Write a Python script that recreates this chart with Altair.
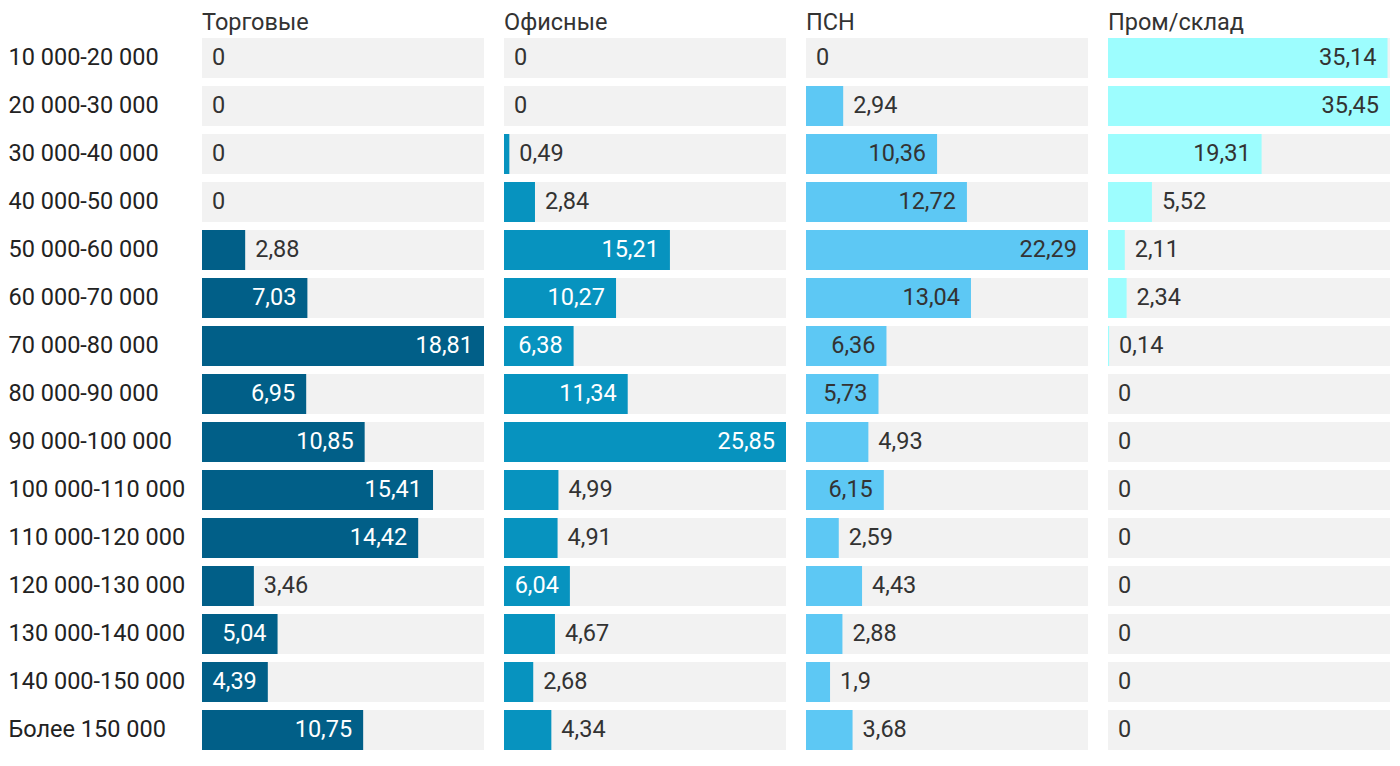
import altair as alt
import pandas as pd

panels = ["Торговые", "Офисные", "ПСН", "Пром/склад"]
ranges = ["10 000-20 000", "20 000-30 000", "30 000-40 000", "40 000-50 000",
          "50 000-60 000", "60 000-70 000", "70 000-80 000", "80 000-90 000",
          "90 000-100 000", "100 000-110 000", "110 000-120 000", "120 000-130 000",
          "130 000-140 000", "140 000-150 000", "Более 150 000"]
torg = [0, 0, 0, 0, 2.88, 7.03, 18.81, 6.95, 10.85, 15.41, 14.42, 3.46, 5.04, 4.39, 10.75]
ofis = [0, 0, 0.49, 2.84, 15.21, 10.27, 6.38, 11.34, 25.85, 4.99, 4.91, 6.04, 4.67, 2.68, 4.34]
psn = [0, 2.94, 10.36, 12.72, 22.29, 13.04, 6.36, 5.73, 4.93, 6.15, 2.59, 4.43, 2.88, 1.9, 3.68]
prom = [35.14, 35.45, 19.31, 5.52, 2.11, 2.34, 0.14, 0, 0, 0, 0, 0, 0, 0, 0]
series = [torg, ofis, psn, prom]
colors = ["#015f88", "#0793bf", "#5dc8f4", "#9dfdfe"]
inside_colors = ["#ffffff", "#ffffff", "#333333", "#333333"]

W = 282
H = 720
FS = 23.5


def fmt(v):
    return f"{v:g}".replace(".", ",")


rows = []
for p, vals in zip(panels, series):
    mx = max(vals)
    for r, v in zip(ranges, vals):
        rows.append({"panel": p, "range": r, "value": v, "mx": mx,
                     "label": fmt(v), "inside": bool(v / mx * W > 64)})
df = pd.DataFrame(rows)

yscale = alt.Scale(paddingInner=8 / 48, paddingOuter=4 / 48)


def panel(i, show_axis):
    name = panels[i]
    d = df[df.panel == name]
    mx = max(series[i])
    xs = alt.Scale(domain=[0, mx], nice=False, zero=True)
    if show_axis:
        yax = alt.Axis(title=None, ticks=False, tickSize=0, domain=False, grid=False,
                       labelAlign="left", labelPadding=194, labelFontSize=FS,
                       labelColor="#222222", labelFont="Roboto", labelLimit=300)
    else:
        yax = None
    base = alt.Chart(d).encode(y=alt.Y("range:N", sort=ranges, scale=yscale, axis=yax))
    bg = base.mark_bar(color="#f2f2f2").encode(x=alt.X("mx:Q", scale=xs, axis=None))
    bar = base.mark_bar(color=colors[i]).encode(x=alt.X("value:Q", scale=xs, axis=None))
    t_in = base.transform_filter("datum.inside").mark_text(
        align="right", baseline="middle", dx=-11, fontSize=FS, color=inside_colors[i]
    ).encode(x=alt.X("value:Q", scale=xs, axis=None), text="label:N")
    t_out = base.transform_filter("!datum.inside").mark_text(
        align="left", baseline="middle", dx=10, fontSize=FS, color="#333333"
    ).encode(x=alt.X("value:Q", scale=xs, axis=None), text="label:N")
    return alt.layer(bg, bar, t_in, t_out).properties(
        width=W, height=H,
        title=alt.TitleParams(name, anchor="start", frame="group", fontSize=FS,
                              fontWeight="normal", color="#333333", offset=0,
                              font="Roboto"),
    )


chart = alt.hconcat(*[panel(i, i == 0) for i in range(4)], spacing=20).properties(
    padding={"left": 0, "right": 0, "top": 2, "bottom": 0}
).configure(font="Roboto").configure_view(stroke=None)

chart.save("out.html", embed_options={"renderer": "svg", "actions": False})
